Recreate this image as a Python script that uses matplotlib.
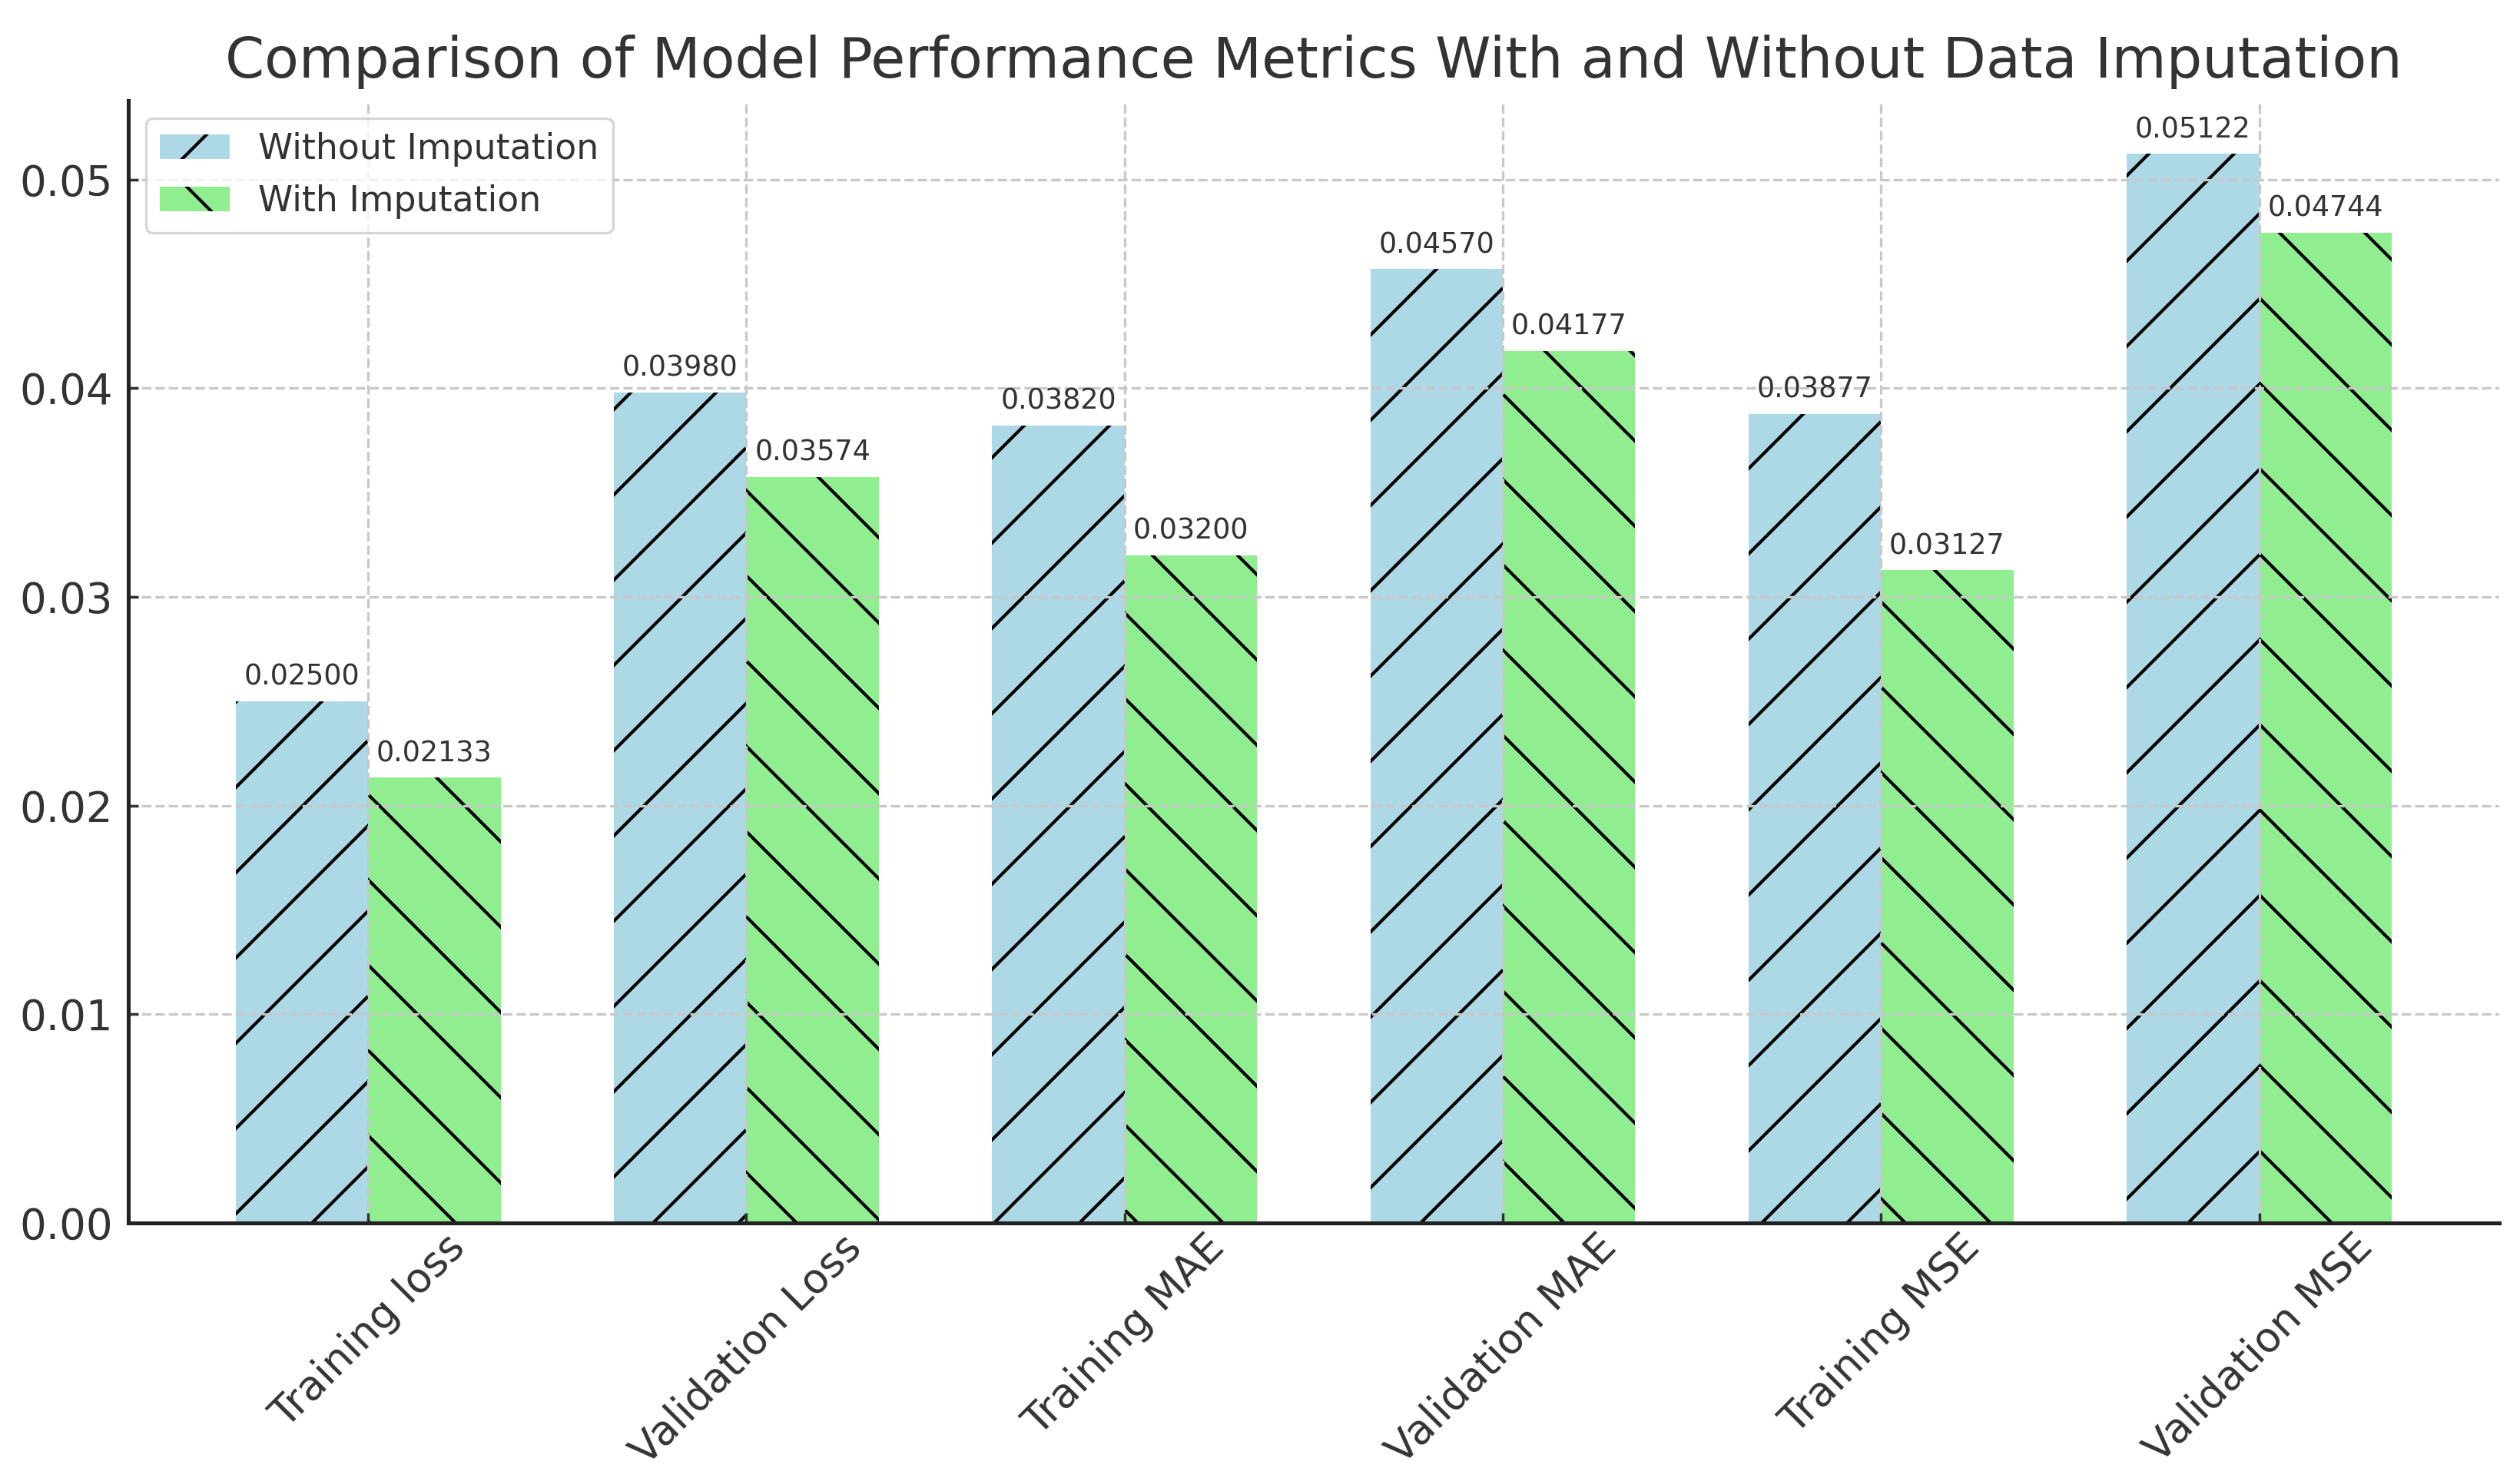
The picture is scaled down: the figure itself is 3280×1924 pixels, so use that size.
import numpy as np
import matplotlib
matplotlib.use("Agg")
import matplotlib.pyplot as plt

# data
metrics = ['Training loss', 'Validation Loss', 'Training MAE',
           'Validation MAE', 'Training MSE', 'Validation MSE']
without_imputation = [0.02500, 0.03980, 0.03820, 0.04570, 0.03877, 0.05122]
with_imputation = [0.02133, 0.03574, 0.03200, 0.04177, 0.03127, 0.04744]

# hatch spacing in Agg depends on dpi, so pick a dpi that gives the original density
plt.rcParams['hatch.linewidth'] = 0.9
plt.rcParams['text.color'] = '#333333'
plt.rcParams['axes.labelcolor'] = '#333333'
plt.rcParams['xtick.color'] = '#333333'
plt.rcParams['ytick.color'] = '#333333'

DPI = 333
fig, ax = plt.subplots(figsize=(3280 / DPI, 1924 / DPI), dpi=DPI)
fig.subplots_adjust(left=0.0508, right=0.9918, top=0.932, bottom=0.1726)

x = np.arange(len(metrics))
width = 0.35

bars1 = ax.bar(x - width / 2, without_imputation, width, label='Without Imputation',
               color='lightblue', hatch='/')
bars2 = ax.bar(x + width / 2, with_imputation, width, label='With Imputation',
               color='lightgreen', hatch='\\')

# value labels on top of each bar
for bars in (bars1, bars2):
    for b in bars:
        h = b.get_height()
        ax.annotate(f'{h:.5f}', xy=(b.get_x() + b.get_width() / 2, h),
                    xytext=(0, 2.85), textcoords='offset points',
                    ha='center', va='bottom', fontsize=7.9)

ax.set_title('Comparison of Model Performance Metrics With and Without Data Imputation',
             fontsize=15.85, pad=6.5)
ax.set_xticks(x)
ax.set_xticklabels(metrics, rotation=45, fontsize=11.6)
ax.tick_params(axis='y', labelsize=11.8, pad=4.2)
ax.tick_params(axis='x', pad=1.2)
ax.tick_params(width=0.75, length=2.9, direction='in')

ax.grid(True, linestyle='--', color='#c8c8c8', linewidth=0.71)

for side in ('top', 'right'):
    ax.spines[side].set_visible(False)
for side in ('left', 'bottom'):
    ax.spines[side].set_linewidth(1.1)
    ax.spines[side].set_color('#222222')

leg = ax.legend(loc='upper left', fontsize=9.9)
leg.get_frame().set_linewidth(0.71)
leg.get_frame().set_edgecolor('#cccccc')

plt.savefig('out.png', dpi=DPI)
